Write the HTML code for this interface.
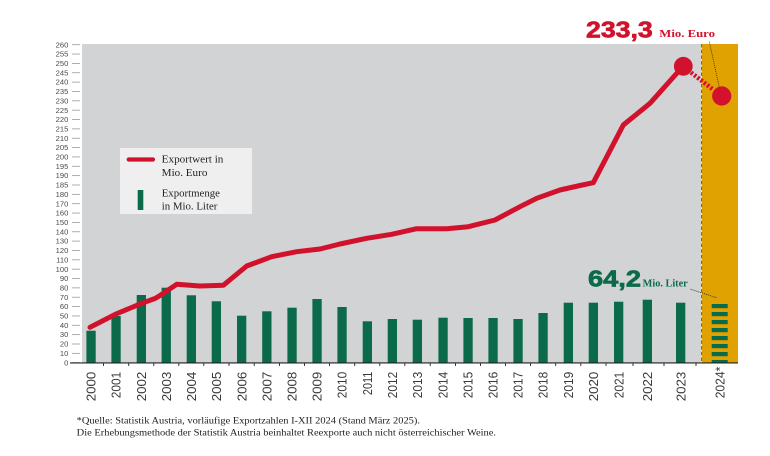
<!DOCTYPE html>
<html><head><meta charset="utf-8"><style>
html,body{margin:0;padding:0;background:#fff;}
svg{display:block;}
</style></head><body>
<svg width="770" height="456" viewBox="0 0 770 456" xmlns="http://www.w3.org/2000/svg">
<rect x="0" y="0" width="770" height="456" fill="#fff"/>
<!-- plot backgrounds -->
<rect x="82" y="44" width="619.5" height="318.7" fill="#D1D3D4"/>
<rect x="702" y="44" width="36" height="318.7" fill="#E0A200"/>
<line x1="701.6" y1="44" x2="701.6" y2="362" stroke="#6e5f45" stroke-width="1" stroke-dasharray="3.5 2.2"/>

<!-- y ticks and labels -->
<g stroke="#9a9a9a" stroke-width="0.8">
<line x1="72" x2="80" y1="362.7" y2="362.7"/><line x1="72" x2="80" y1="353.35" y2="353.35"/><line x1="72" x2="80" y1="344" y2="344"/><line x1="72" x2="80" y1="334.64" y2="334.64"/><line x1="72" x2="80" y1="325.29" y2="325.29"/><line x1="72" x2="80" y1="315.94" y2="315.94"/><line x1="72" x2="80" y1="306.58" y2="306.58"/><line x1="72" x2="80" y1="297.23" y2="297.23"/><line x1="72" x2="80" y1="287.88" y2="287.88"/><line x1="72" x2="80" y1="278.52" y2="278.52"/><line x1="72" x2="80" y1="269.17" y2="269.17"/><line x1="72" x2="80" y1="259.82" y2="259.82"/><line x1="72" x2="80" y1="250.46" y2="250.46"/><line x1="72" x2="80" y1="241.11" y2="241.11"/><line x1="72" x2="80" y1="231.76" y2="231.76"/><line x1="72" x2="80" y1="222.4" y2="222.4"/><line x1="72" x2="80" y1="213.05" y2="213.05"/><line x1="72" x2="80" y1="203.7" y2="203.7"/><line x1="72" x2="80" y1="194.35" y2="194.35"/><line x1="72" x2="80" y1="184.99" y2="184.99"/><line x1="72" x2="80" y1="175.64" y2="175.64"/><line x1="72" x2="80" y1="166.29" y2="166.29"/><line x1="72" x2="80" y1="156.93" y2="156.93"/><line x1="72" x2="80" y1="147.58" y2="147.58"/><line x1="72" x2="80" y1="138.23" y2="138.23"/><line x1="72" x2="80" y1="128.87" y2="128.87"/><line x1="72" x2="80" y1="119.52" y2="119.52"/><line x1="72" x2="80" y1="110.17" y2="110.17"/><line x1="72" x2="80" y1="100.81" y2="100.81"/><line x1="72" x2="80" y1="91.46" y2="91.46"/><line x1="72" x2="80" y1="82.11" y2="82.11"/><line x1="72" x2="80" y1="72.75" y2="72.75"/><line x1="72" x2="80" y1="63.4" y2="63.4"/><line x1="72" x2="80" y1="54.05" y2="54.05"/><line x1="72" x2="80" y1="44.7" y2="44.7"/>
</g>
<g font-family="Liberation Sans, sans-serif" font-size="7.6" fill="#4a4a4a" text-anchor="end">
<text x="68.3" y="365.3">0</text><text x="68.3" y="355.95">10</text><text x="68.3" y="346.6">20</text><text x="68.3" y="337.24">30</text><text x="68.3" y="327.89">40</text><text x="68.3" y="318.54">50</text><text x="68.3" y="309.18">60</text><text x="68.3" y="299.83">70</text><text x="68.3" y="290.48">80</text><text x="68.3" y="281.12">90</text><text x="68.3" y="271.77">100</text><text x="68.3" y="262.42">110</text><text x="68.3" y="253.06">120</text><text x="68.3" y="243.71">130</text><text x="68.3" y="234.36">140</text><text x="68.3" y="225">150</text><text x="68.3" y="215.65">160</text><text x="68.3" y="206.3">170</text><text x="68.3" y="196.95">180</text><text x="68.3" y="187.59">185</text><text x="68.3" y="178.24">190</text><text x="68.3" y="168.89">195</text><text x="68.3" y="159.53">200</text><text x="68.3" y="150.18">205</text><text x="68.3" y="140.83">210</text><text x="68.3" y="131.47">215</text><text x="68.3" y="122.12">220</text><text x="68.3" y="112.77">225</text><text x="68.3" y="103.41">230</text><text x="68.3" y="94.06">235</text><text x="68.3" y="84.71">240</text><text x="68.3" y="75.35">245</text><text x="68.3" y="66">250</text><text x="68.3" y="56.65">255</text><text x="68.3" y="47.3">260</text>
</g>

<!-- bars -->
<g fill="#0A6A4A">
<rect x="86.4" y="330.7" width="9.3" height="32"/>
<rect x="111.4" y="316" width="9.3" height="46.7"/>
<rect x="136.7" y="295" width="9.3" height="67.7"/>
<rect x="161.6" y="287.7" width="9.3" height="75"/>
<rect x="186.7" y="295.3" width="9.3" height="67.4"/>
<rect x="211.7" y="301.3" width="9.3" height="61.4"/>
<rect x="237" y="315.7" width="9.3" height="47"/>
<rect x="262.2" y="311.3" width="9.3" height="51.4"/>
<rect x="287.4" y="307.7" width="9.3" height="55"/>
<rect x="312.4" y="299" width="9.3" height="63.7"/>
<rect x="337.4" y="307" width="9.3" height="55.7"/>
<rect x="362.7" y="321.3" width="9.3" height="41.4"/>
<rect x="387.7" y="319" width="9.3" height="43.7"/>
<rect x="412.7" y="319.7" width="9.3" height="43"/>
<rect x="438.4" y="317.7" width="9.3" height="45"/>
<rect x="463.4" y="318" width="9.3" height="44.7"/>
<rect x="488.4" y="318" width="9.3" height="44.7"/>
<rect x="513.4" y="319" width="9.3" height="43.7"/>
<rect x="538.4" y="313" width="9.3" height="49.7"/>
<rect x="563.7" y="302.7" width="9.3" height="60"/>
<rect x="588.7" y="302.7" width="9.3" height="60"/>
<rect x="614" y="301.7" width="9.3" height="61"/>
<rect x="642.7" y="299.7" width="9.3" height="63"/>
<rect x="676" y="302.7" width="9.3" height="60"/>
<!-- striped 2024 bar -->
<rect x="711.7" y="304" width="16" height="4.2"/>
<rect x="711.7" y="312" width="16" height="4.2"/>
<rect x="711.7" y="320" width="16" height="4.2"/>
<rect x="711.7" y="328" width="16" height="4.2"/>
<rect x="711.7" y="336" width="16" height="4.2"/>
<rect x="711.7" y="344" width="16" height="4.2"/>
<rect x="711.7" y="352" width="16" height="4.2"/>
<rect x="711.7" y="360" width="16" height="2.7"/>
</g>

<!-- baseline -->
<line x1="70" y1="362.9" x2="738" y2="362.9" stroke="#222" stroke-width="1.1"/>
<g stroke="#222" stroke-width="0.9">
<line x1="103.5" x2="103.5" y1="363" y2="366"/><line x1="128.7" x2="128.7" y1="363" y2="366"/><line x1="153.8" x2="153.8" y1="363" y2="366"/><line x1="178.8" x2="178.8" y1="363" y2="366"/><line x1="203.8" x2="203.8" y1="363" y2="366"/><line x1="229" x2="229" y1="363" y2="366"/><line x1="254.2" x2="254.2" y1="363" y2="366"/><line x1="279.4" x2="279.4" y1="363" y2="366"/><line x1="304.5" x2="304.5" y1="363" y2="366"/><line x1="329.5" x2="329.5" y1="363" y2="366"/><line x1="354.7" x2="354.7" y1="363" y2="366"/><line x1="379.8" x2="379.8" y1="363" y2="366"/><line x1="404.8" x2="404.8" y1="363" y2="366"/><line x1="430.2" x2="430.2" y1="363" y2="366"/><line x1="455.5" x2="455.5" y1="363" y2="366"/><line x1="480.5" x2="480.5" y1="363" y2="366"/><line x1="505.5" x2="505.5" y1="363" y2="366"/><line x1="530.5" x2="530.5" y1="363" y2="366"/><line x1="555.7" x2="555.7" y1="363" y2="366"/><line x1="580.8" x2="580.8" y1="363" y2="366"/><line x1="606" x2="606" y1="363" y2="366"/><line x1="633" x2="633" y1="363" y2="366"/><line x1="664" x2="664" y1="363" y2="366"/><line x1="696" x2="696" y1="363" y2="366"/>
</g>

<!-- x labels -->
<g font-family="Liberation Sans, sans-serif" font-size="13" fill="#3a3a3a" text-anchor="end">
<text transform="translate(95.7,371.7) rotate(-90)" textLength="29.6" lengthAdjust="spacingAndGlyphs">2000</text>
<text transform="translate(120.7,371.7) rotate(-90)" textLength="26.5" lengthAdjust="spacingAndGlyphs">2001</text>
<text transform="translate(146,371.7) rotate(-90)" textLength="29.6" lengthAdjust="spacingAndGlyphs">2002</text>
<text transform="translate(170.9,371.7) rotate(-90)" textLength="29.6" lengthAdjust="spacingAndGlyphs">2003</text>
<text transform="translate(196,371.7) rotate(-90)" textLength="29.6" lengthAdjust="spacingAndGlyphs">2004</text>
<text transform="translate(221,371.7) rotate(-90)" textLength="29.6" lengthAdjust="spacingAndGlyphs">2005</text>
<text transform="translate(246.4,371.7) rotate(-90)" textLength="29.6" lengthAdjust="spacingAndGlyphs">2006</text>
<text transform="translate(271.5,371.7) rotate(-90)" textLength="29.6" lengthAdjust="spacingAndGlyphs">2007</text>
<text transform="translate(296.7,371.7) rotate(-90)" textLength="29.6" lengthAdjust="spacingAndGlyphs">2008</text>
<text transform="translate(321.7,371.7) rotate(-90)" textLength="29.6" lengthAdjust="spacingAndGlyphs">2009</text>
<text transform="translate(346.7,371.7) rotate(-90)" textLength="26.5" lengthAdjust="spacingAndGlyphs">2010</text>
<text transform="translate(372,371.7) rotate(-90)" textLength="23.4" lengthAdjust="spacingAndGlyphs">2011</text>
<text transform="translate(397,371.7) rotate(-90)" textLength="26.5" lengthAdjust="spacingAndGlyphs">2012</text>
<text transform="translate(422,371.7) rotate(-90)" textLength="26.5" lengthAdjust="spacingAndGlyphs">2013</text>
<text transform="translate(447.7,371.7) rotate(-90)" textLength="26.5" lengthAdjust="spacingAndGlyphs">2014</text>
<text transform="translate(472.7,371.7) rotate(-90)" textLength="26.5" lengthAdjust="spacingAndGlyphs">2015</text>
<text transform="translate(497.7,371.7) rotate(-90)" textLength="26.5" lengthAdjust="spacingAndGlyphs">2016</text>
<text transform="translate(522.7,371.7) rotate(-90)" textLength="26.5" lengthAdjust="spacingAndGlyphs">2017</text>
<text transform="translate(547.7,371.7) rotate(-90)" textLength="26.5" lengthAdjust="spacingAndGlyphs">2018</text>
<text transform="translate(573,371.7) rotate(-90)" textLength="26.5" lengthAdjust="spacingAndGlyphs">2019</text>
<text transform="translate(598,371.7) rotate(-90)" textLength="29.6" lengthAdjust="spacingAndGlyphs">2020</text>
<text transform="translate(623.4,371.7) rotate(-90)" textLength="26.5" lengthAdjust="spacingAndGlyphs">2021</text>
<text transform="translate(652,371.7) rotate(-90)" textLength="29.6" lengthAdjust="spacingAndGlyphs">2022</text>
<text transform="translate(685.4,371.7) rotate(-90)" textLength="29.6" lengthAdjust="spacingAndGlyphs">2023</text>
<text transform="translate(724.4,366.7) rotate(-90)" textLength="31.6" lengthAdjust="spacingAndGlyphs">2024*</text>
</g>

<!-- legend -->
<rect x="120" y="148" width="132" height="66" fill="#EFEFEF"/>
<line x1="128.7" y1="159.5" x2="153" y2="159.5" stroke="#D2112C" stroke-width="4.2" stroke-linecap="round"/>
<rect x="137.7" y="190" width="5.6" height="20" fill="#0A6A4A"/>
<g font-family="Liberation Serif, serif" font-size="11" fill="#222">
<text x="161.7" y="162.3" textLength="61.7" lengthAdjust="spacingAndGlyphs">Exportwert in</text>
<text x="161.7" y="176" textLength="45.7" lengthAdjust="spacingAndGlyphs">Mio. Euro</text>
<text x="161.7" y="196.5" textLength="58.3" lengthAdjust="spacingAndGlyphs">Exportmenge</text>
<text x="161.7" y="209.5" textLength="55.7" lengthAdjust="spacingAndGlyphs">in Mio. Liter</text>
</g>

<!-- line series -->
<polyline fill="none" stroke="#D2112C" stroke-width="5" stroke-linejoin="round" stroke-linecap="round"
points="90,327.3 116,314 141.7,303.3 155,298.5 160,295.5 176.7,284.3 200,286 223.3,285.3 246.7,266 271.7,256.7 296.7,251.7 320,249 340,244 366.7,238.3 391.7,234.3 416.7,228.7 446.7,228.7 468.3,226.7 495,220 520,206.7 536.7,198.3 560,190 580,185.5 593.3,182.7 623.3,125 650,103.3 683.3,66"/>
<line x1="691" y1="72.5" x2="713" y2="89.5" stroke="#D2112C" stroke-width="4.5" stroke-dasharray="2.3 1.8"/>
<circle cx="683.3" cy="66.3" r="9.4" fill="#D2112C"/>
<circle cx="721.7" cy="96" r="9.6" fill="#D2112C"/>

<!-- callout dotted lines -->
<line x1="709.3" y1="41.7" x2="719.3" y2="87.3" stroke="#3a2a2a" stroke-width="0.8" stroke-dasharray="1 1"/>
<line x1="690.7" y1="289.3" x2="716.7" y2="297.7" stroke="#1d3a30" stroke-width="0.9" stroke-dasharray="1 1"/>

<!-- callouts -->
<text x="586" y="37.3" font-family="Liberation Sans, sans-serif" font-weight="bold" font-size="23" fill="#D2112C" stroke="#D2112C" stroke-width="0.7" textLength="66.7" lengthAdjust="spacingAndGlyphs">233,3</text>
<text x="659.3" y="37" font-family="Liberation Serif, serif" font-weight="bold" font-size="10.5" fill="#D2112C" textLength="55.7" lengthAdjust="spacingAndGlyphs">Mio. Euro</text>
<text x="588" y="286.7" font-family="Liberation Sans, sans-serif" font-weight="bold" font-size="23" fill="#0A6A4A" stroke="#0A6A4A" stroke-width="0.7" textLength="53" lengthAdjust="spacingAndGlyphs">64,2</text>
<text x="642.7" y="286.7" font-family="Liberation Serif, serif" font-weight="bold" font-size="10" fill="#0A6A4A" textLength="45" lengthAdjust="spacingAndGlyphs">Mio. Liter</text>

<!-- footnote -->
<g font-family="Liberation Serif, serif" font-size="9.8" fill="#222">
<text x="76.7" y="423.5" textLength="343.3" lengthAdjust="spacingAndGlyphs">*Quelle: Statistik Austria, vorläufige Exportzahlen I-XII 2024 (Stand März 2025).</text>
<text x="76.7" y="435.5" textLength="419.3" lengthAdjust="spacingAndGlyphs">Die Erhebungsmethode der Statistik Austria beinhaltet Reexporte auch nicht österreichischer Weine.</text>
</g>
</svg>
</body></html>
